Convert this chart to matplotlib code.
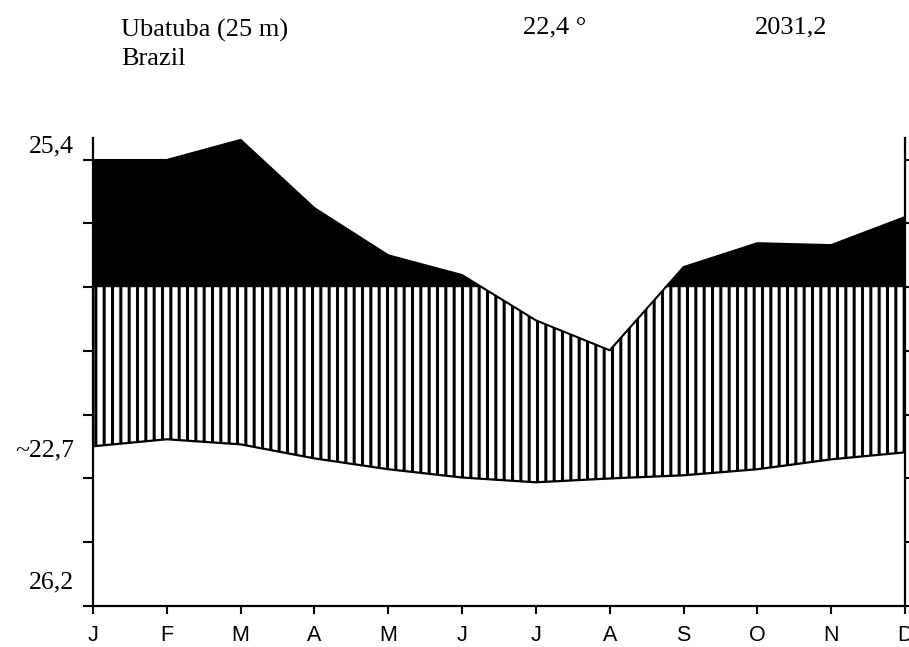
import matplotlib.pyplot as plt
import numpy as np

plt.rcParams['hatch.linewidth'] = 2.2

# diagram values per month (diagram units: 20 units per tick, 0 = humid line)
months = ['J', 'F', 'M', 'A', 'M', 'J', 'J', 'A', 'S', 'O', 'N', 'D']
precip = np.array([39.9, 39.9, 46.2, 24.8, 10.0, 3.8, -10.4, -19.8, 6.3, 13.8, 13.2, 22.0])
temp = np.array([-49.9, -47.7, -49.3, -53.7, -57.1, -59.7, -61.2, -60.0, -59.0, -57.1, -54.0, -51.8])

station = 'Ubatuba (25 m)'
country = 'Brazil'
mean_temp = '22,4 °'
annual_precip = '2031,2'
scale_labels = ['25,4', '~22,7', '26,2']
scale_pos = [44.3, -51.2, -92.6]

W, H = 909, 647
fig = plt.figure(figsize=(W / 100, H / 100), dpi=100)
ax = fig.add_axes([93 / W, 1 - 606 / H, (905 - 93) / W, (606 - 138) / H])

x = np.arange(len(months))

# hatched area between temperature and precipitation curves
ax.fill_between(x, temp, precip, facecolor='white', edgecolor='black',
                hatch='||', linewidth=0)
# black humid area above the zero line
ax.fill_between(x, 0, precip, where=precip > 0, interpolate=True,
                color='black', linewidth=0)
ax.plot(x, precip, color='black', lw=1.5)
ax.plot(x, temp, color='black', lw=1.6)

ax.set_xlim(0, 11)
ax.set_ylim(-100, 46.8)
ax.set_xticks(x)
ax.set_xticklabels(months, fontfamily='Liberation Sans', fontsize=15.5)
ax.set_yticks(np.arange(-100, 41, 20))
ax.set_yticklabels([])
ax.tick_params(axis='x', direction='out', length=6, width=1.5, pad=8)
ax.tick_params(axis='y', direction='out', length=7, width=1.5,
               left=True, right=True)
ax.spines['top'].set_visible(False)
for s in ['left', 'right', 'bottom']:
    ax.spines[s].set_linewidth(1.6)

for lab, yv in zip(scale_labels, scale_pos):
    ax.text(-0.023, yv, lab, transform=ax.get_yaxis_transform(),
            ha='right', va='center', fontfamily='Liberation Serif', fontsize=18.5)

serif = dict(fontfamily='Liberation Serif', fontsize=19, va='baseline')
fig.text(121 / W, 1 - 37 / H, station, **serif)
fig.text(121 / W, 1 - 65 / H, country, **serif)
fig.text(523 / W, 1 - 33 / H, mean_temp, **serif)
fig.text(755 / W, 1 - 33 / H, annual_precip, **serif)

fig.savefig('out.png', dpi=100)
